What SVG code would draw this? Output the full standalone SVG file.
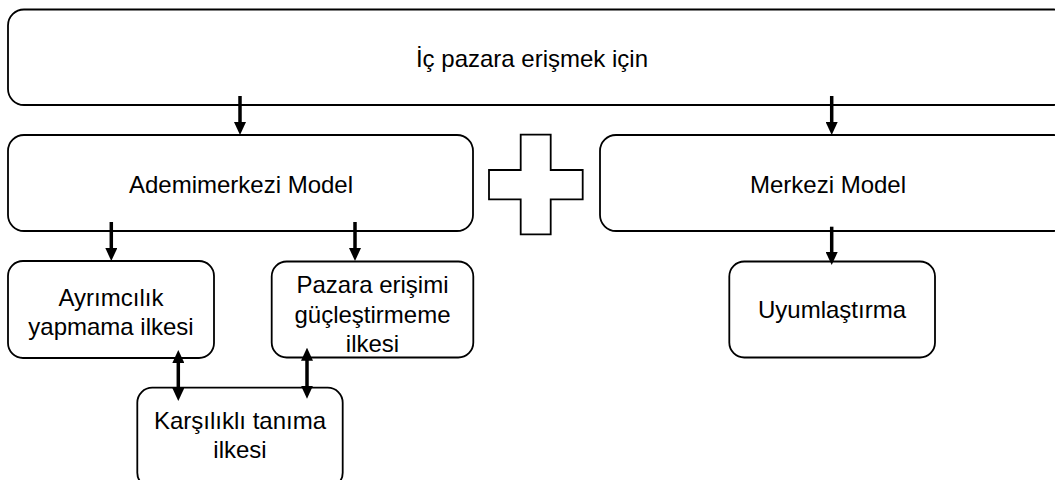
<svg xmlns="http://www.w3.org/2000/svg" width="1055" height="480" viewBox="0 0 1055 480">
<defs>
<style>
.box{fill:#fff;stroke:#000;stroke-width:1.8}
.lbl{font-family:"Liberation Sans",Arial,sans-serif;font-size:24px;fill:#000;text-anchor:middle}
.arr{stroke:#000;stroke-width:3.5;fill:none}
</style>
<marker id="ah" markerUnits="userSpaceOnUse" viewBox="0 0 13 12" markerWidth="13" markerHeight="12" refX="5" refY="6" orient="auto-start-reverse">
<path d="M0,0 L13,6 L0,12 z" fill="#000"/>
</marker>
</defs>
<rect width="1055" height="480" fill="#fff"/>
<g id="node-top">
<rect class="box" x="8" y="9.5" width="1062" height="95.5" rx="16"/>
<text class="lbl" x="532" y="67">İç pazara erişmek için</text>
</g>
<g id="node-ademimerkezi">
<rect class="box" x="8" y="135" width="465" height="96" rx="16"/>
<text class="lbl" x="241" y="193">Ademimerkezi Model</text>
</g>
<g id="node-plus">
<path class="box" d="M520.7,134.7 H550.7 V170 H582.7 V199.3 H550.7 V234.3 H520.7 V199.3 H489 V170 H520.7 Z"/>
</g>
<g id="node-merkezi">
<rect class="box" x="600" y="135" width="470" height="96" rx="16"/>
<text class="lbl" x="828" y="193">Merkezi Model</text>
</g>
<g id="node-ayrimcilik">
<rect class="box" x="8" y="261" width="206" height="97" rx="15"/>
<text class="lbl" x="111" y="306">Ayrımcılık</text>
<text class="lbl" x="111" y="335">yapmama ilkesi</text>
</g>
<g id="node-pazara">
<rect class="box" x="271.7" y="261.5" width="201.6" height="96" rx="15"/>
<text class="lbl" x="372.5" y="293">Pazara erişimi</text>
<text class="lbl" x="372.5" y="323">güçleştirmeme</text>
<text class="lbl" x="372.5" y="351.5">ilkesi</text>
</g>
<g id="node-uyumlastirma">
<rect class="box" x="729.3" y="261.5" width="205.7" height="96" rx="15"/>
<text class="lbl" x="832" y="318">Uyumlaştırma</text>
</g>
<g id="node-karsilikli">
<rect class="box" x="137.3" y="387.7" width="205.4" height="100" rx="15"/>
<text class="lbl" x="240" y="429">Karşılıklı tanıma</text>
<text class="lbl" x="240" y="458">ilkesi</text>
</g>
<g id="connectors">
<line class="arr" x1="240" y1="96" x2="240" y2="127" marker-end="url(#ah)"/>
<line class="arr" x1="831.7" y1="96" x2="831.7" y2="127" marker-end="url(#ah)"/>
<line class="arr" x1="111.3" y1="222" x2="111.3" y2="253" marker-end="url(#ah)"/>
<line class="arr" x1="355" y1="222" x2="355" y2="253" marker-end="url(#ah)"/>
<line class="arr" x1="831.7" y1="226.7" x2="831.7" y2="257" marker-end="url(#ah)"/>
<line class="arr" x1="178.3" y1="358" x2="178.3" y2="393" marker-start="url(#ah)" marker-end="url(#ah)"/>
<line class="arr" x1="307" y1="355.7" x2="307" y2="390.7" marker-start="url(#ah)" marker-end="url(#ah)"/>
</g>
</svg>
